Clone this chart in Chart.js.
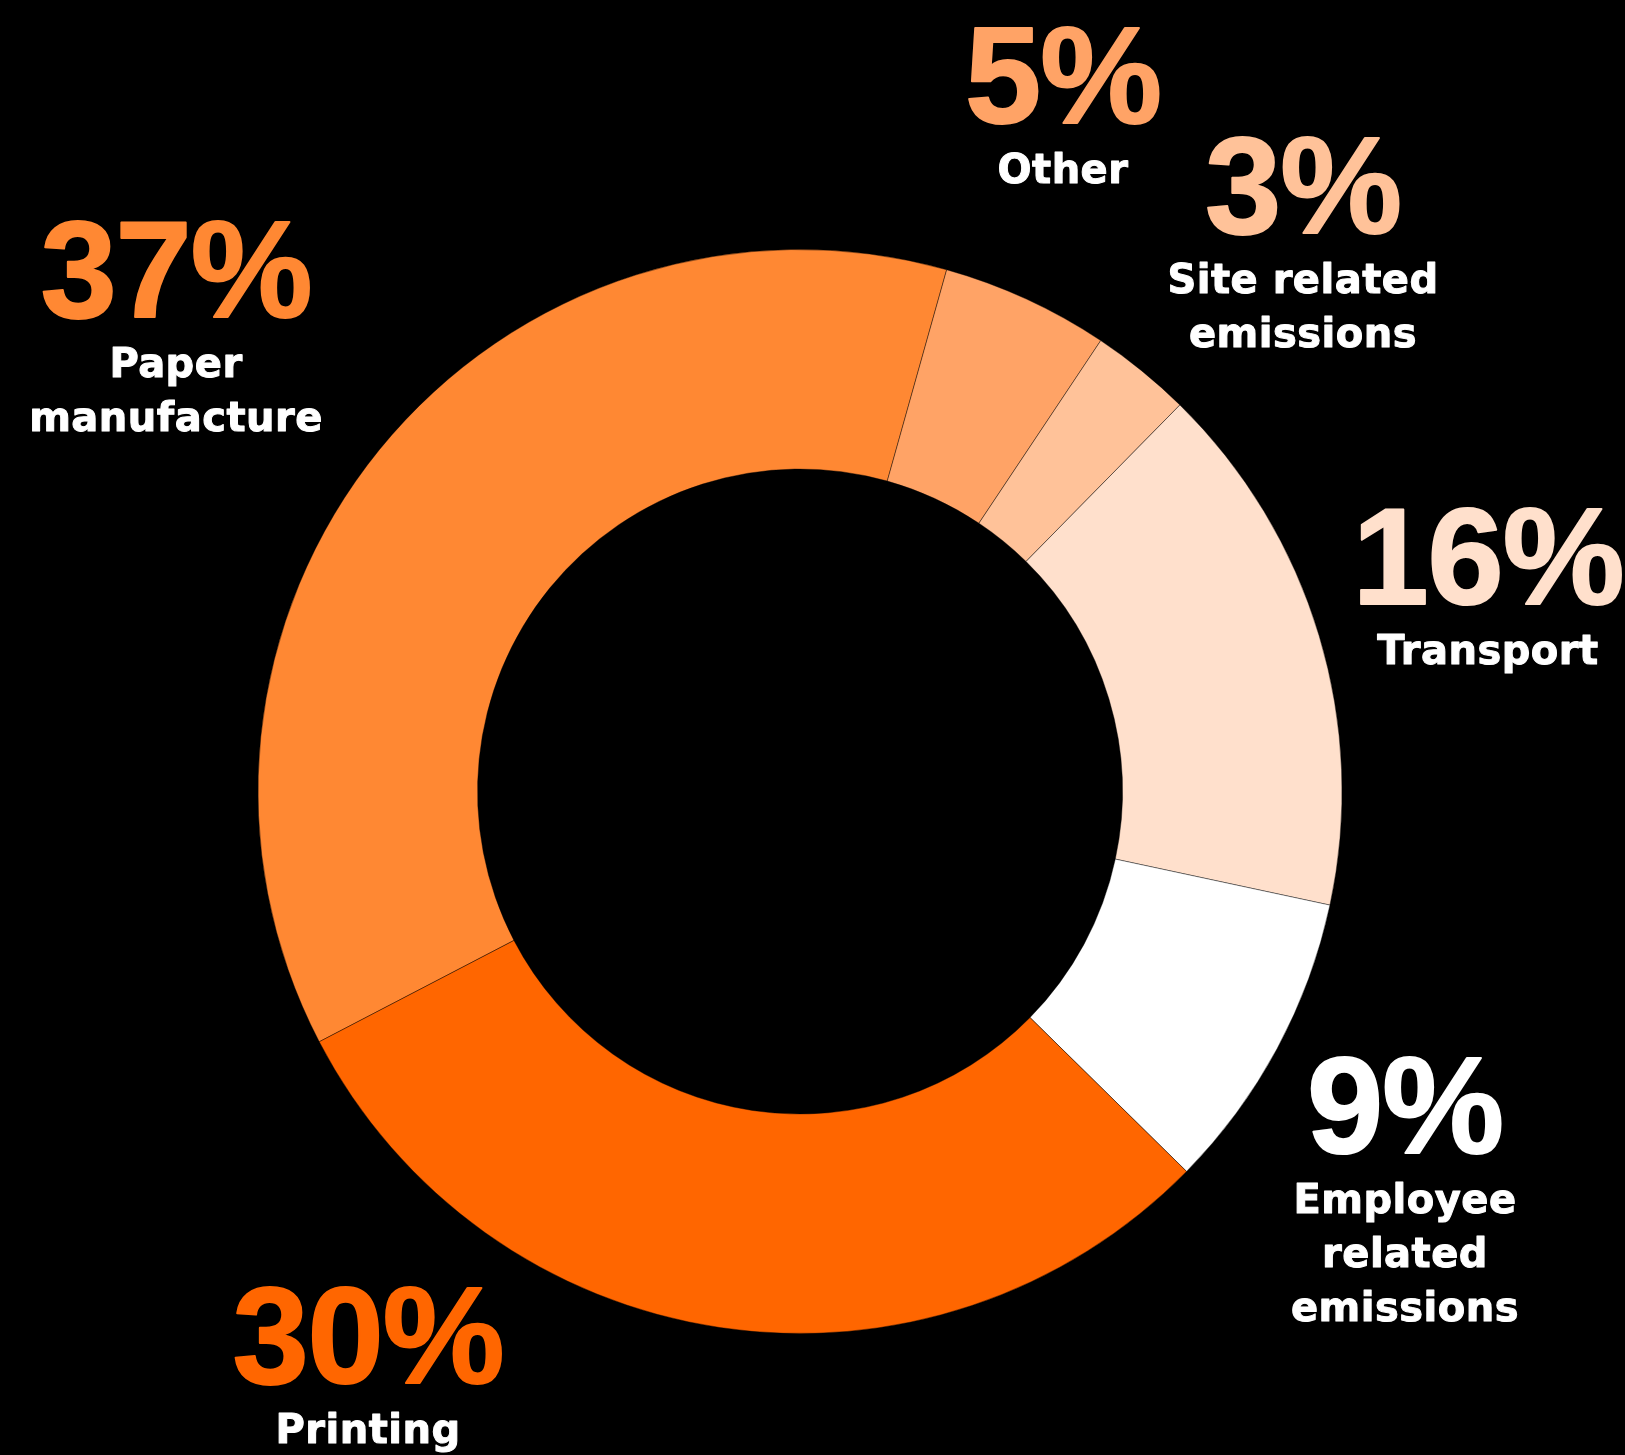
<!DOCTYPE html>
<html>
<head>
<meta charset="utf-8">
<style>
  html, body { margin: 0; padding: 0; background: #000; }
  #chart { display: block; }
</style>
</head>
<body>
<canvas id="chart" width="1625" height="1455"></canvas>
<script src="https://cdn.jsdelivr.net/npm/chart.js@4/dist/chart.umd.min.js"></script>
<script>
// Carbon footprint breakdown, clockwise from Paper manufacture
const categories = [
  ['Paper', 'manufacture'],
  ['Other'],
  ['Site related', 'emissions'],
  ['Transport'],
  ['Employee', 'related', 'emissions'],
  ['Printing']
];
const shares = [37, 5, 3, 16, 9, 30];
const colors = ['#FF8833', '#FFA366', '#FFC299', '#FFE0CC', '#FFFFFF', '#FF6600'];

// where each label block sits: centre x, baseline of the percentage
const labelAnchors = [
  [176, 317],
  [1063, 123],
  [1303, 233],
  [1488, 604],
  [1405, 1153],
  [368, 1383]
];

const labelPlugin = {
  id: 'outsideLabels',
  afterDraw(chart) {
    const ctx = chart.ctx;
    const values = chart.data.datasets[0].data;
    ctx.save();
    ctx.textAlign = 'center';
    ctx.textBaseline = 'alphabetic';
    ctx.lineJoin = 'round';
    chart.data.labels.forEach((lines, i) => {
      const [x, y] = labelAnchors[i];
      // big percentage, a little bolder than the font gives
      ctx.fillStyle = colors[i];
      ctx.strokeStyle = colors[i];
      ctx.lineWidth = 2;
      ctx.font = 'bold 137px "Liberation Sans", Arial, sans-serif';
      ctx.letterSpacing = '-1px';
      ctx.fillText(values[i] + '%', x, y);
      ctx.strokeText(values[i] + '%', x, y);

      ctx.fillStyle = '#FFFFFF';
      ctx.strokeStyle = '#FFFFFF';
      ctx.lineWidth = 1;
      ctx.font = 'bold 40px "DejaVu Sans", sans-serif';
      ctx.letterSpacing = '0.5px';
      lines.forEach((line, j) => {
        ctx.fillText(line, x, y + 60 + j * 54);
        ctx.strokeText(line, x, y + 60 + j * 54);
      });
    });
    ctx.restore();
  }
};

new Chart(document.getElementById('chart'), {
  type: 'doughnut',
  data: {
    labels: categories,
    datasets: [{
      data: shares,
      backgroundColor: colors,
      borderColor: 'rgba(0,0,0,0.4)',
      borderWidth: 1,
      hoverOffset: 0
    }]
  },
  options: {
    responsive: false,
    animation: false,
    events: [],
    rotation: -117.5,
    cutout: '59.5%',
    layout: {
      padding: { left: 257, right: 282, top: 249, bottom: 121 }
    },
    plugins: {
      legend: { display: false },
      tooltip: { enabled: false }
    }
  },
  plugins: [labelPlugin]
});
</script>
</body>
</html>
